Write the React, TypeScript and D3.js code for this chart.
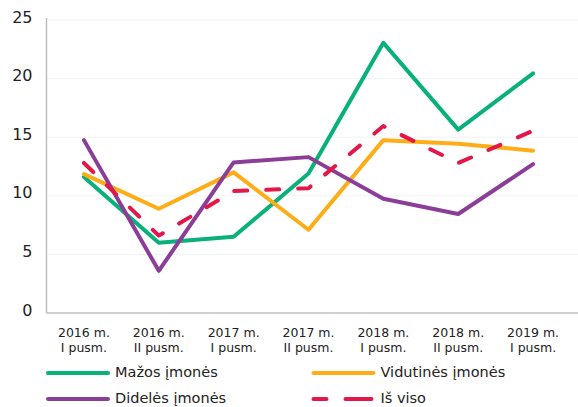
import React from "react";
import * as d3 from "d3";

const categories: string[][] = [
  ["2016 m.", "I pusm."],
  ["2016 m.", "II pusm."],
  ["2017 m.", "I pusm."],
  ["2017 m.", "II pusm."],
  ["2018 m.", "I pusm."],
  ["2018 m.", "II pusm."],
  ["2019 m.", "I pusm."],
];

const mazos = [11.6, 6.0, 6.5, 11.9, 23.05, 15.65, 20.45];
const vidutines = [11.85, 8.9, 12.0, 7.1, 14.75, 14.45, 13.85];
const dideles = [14.75, 3.6, 12.85, 13.3, 9.75, 8.45, 12.7];
const isViso = [12.8, 6.6, 10.4, 10.65, 15.95, 12.8, 15.55];

const yTicks = [0, 5, 10, 15, 20, 25];

const series = [
  { name: "Mažos įmonės", values: mazos, color: "#08b07a", dash: null },
  { name: "Vidutinės įmonės", values: vidutines, color: "#ffad17", dash: null },
  { name: "Didelės įmonės", values: dideles, color: "#8b3e98", dash: null },
  { name: "Iš viso", values: isViso, color: "#e3184a", dash: "13 19" },
];

export default function App() {
  const W = 578;
  const H = 407;
  const left = 46.5;
  const right = 570.5;
  const top = 20;
  const bottom = 313;

  const x = d3
    .scalePoint<number>()
    .domain(categories.map((_, i) => i))
    .range([left, right])
    .padding(0.5);
  const y = d3.scaleLinear().domain([0, 25]).range([bottom, top]);

  const line = d3
    .line<number>()
    .x((_, i) => x(i) as number)
    .y((d) => y(d));

  const font = "DejaVu Sans, Verdana, sans-serif";

  const legendItems = [
    { s: series[0], lx: 46, ly: 373 },
    { s: series[1], lx: 311.5, ly: 373 },
    { s: series[2], lx: 46, ly: 399 },
    { s: series[3], lx: 311.5, ly: 399 },
  ];

  return (
    <svg
      width={W}
      height={H}
      style={{ position: "absolute", left: 0, top: 0 }}
      fontFamily={font}
    >
      <rect width={W} height={H} fill="#ffffff" />
      {yTicks.map((t) => (
        <g key={t}>
          {t > 0 && (
            <line
              x1={left}
              x2={W}
              y1={y(t)}
              y2={y(t)}
              stroke="#f2f2f2"
              strokeWidth={1}
            />
          )}
          <text
            x={32.5}
            y={y(t) - 2}
            textAnchor="end"
            dominantBaseline="middle"
            fontSize={16}
            fill="#222"
          >
            {t}
          </text>
        </g>
      ))}
      <line x1={left} x2={left} y1={top - 2} y2={bottom} stroke="#bfbfbf" strokeWidth={1.5} />
      <line x1={left} x2={W} y1={bottom} y2={bottom} stroke="#bfbfbf" strokeWidth={1.5} />
      {categories.map((c, i) => (
        <text
          key={i}
          x={x(i) as number}
          textAnchor="middle"
          fontSize={12.5}
          fill="#222"
        >
          <tspan x={x(i) as number} y={337}>
            {c[0]}
          </tspan>
          <tspan x={x(i) as number} y={352}>
            {c[1]}
          </tspan>
        </text>
      ))}
      {series.map((s) => (
        <path
          key={s.name}
          d={line(s.values) || ""}
          fill="none"
          stroke={s.color}
          strokeWidth={4}
          strokeLinejoin="round"
          strokeLinecap="round"
          strokeDasharray={s.dash || undefined}
        />
      ))}
      {legendItems.map(({ s, lx, ly }) => (
        <g key={s.name}>
          <line
            x1={lx + 2}
            x2={lx + 62}
            y1={ly}
            y2={ly}
            stroke={s.color}
            strokeWidth={4}
            strokeLinecap="round"
            strokeDasharray={s.dash ? "13 32" : undefined}
          />
          {s.dash && (
            <line
              x1={lx + 34}
              x2={lx + 50}
              y1={ly}
              y2={ly}
              stroke={s.color}
              strokeWidth={4}
              strokeLinecap="round"
            />
          )}
          <text x={lx + 69} y={ly} dominantBaseline="middle" fontSize={14.5} fill="#222">
            {s.name}
          </text>
        </g>
      ))}
    </svg>
  );
}
